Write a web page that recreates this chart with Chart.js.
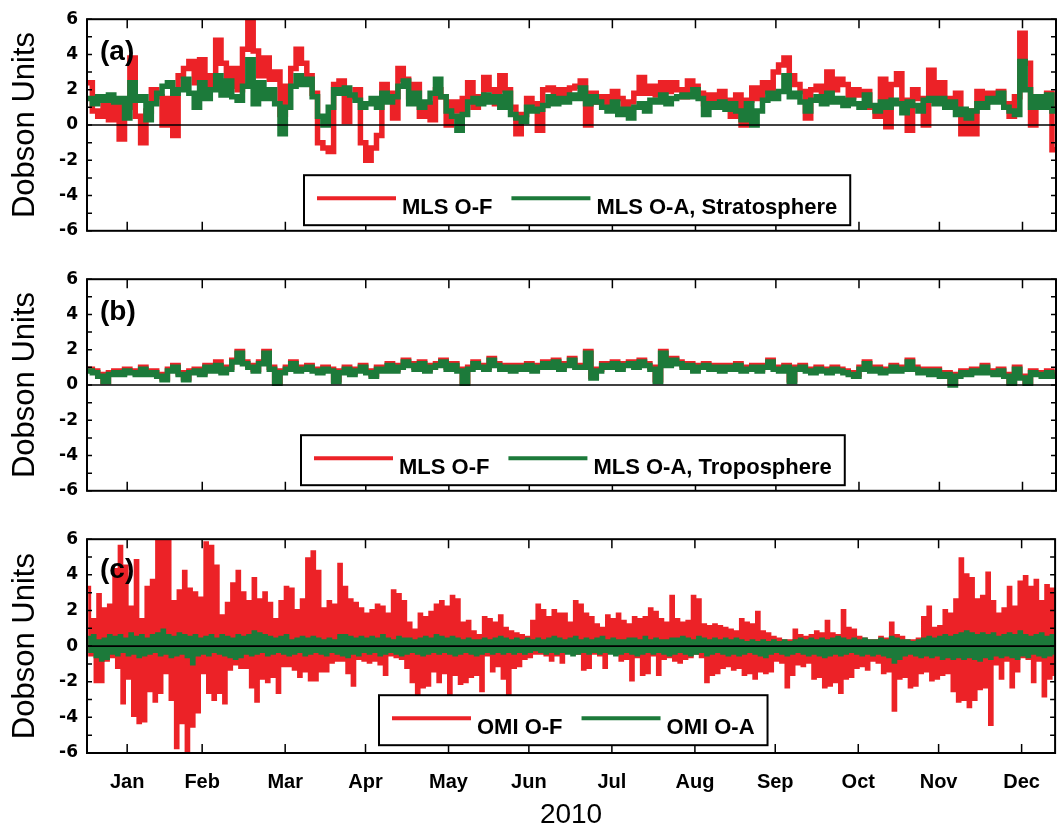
<!DOCTYPE html>
<html>
<head>
<meta charset="utf-8">
<script src="https://cdn.jsdelivr.net/npm/chart.js@4.4.0/dist/chart.umd.min.js"></script>
<style>
  html, body { margin: 0; padding: 0; background: #fff; }
  #wrap { position: relative; width: 1057px; height: 832px; overflow: hidden; }
  canvas { position: absolute; left: 0; }
</style>
</head>
<body>
<div id="wrap">
  <canvas id="panelA" width="1057" height="250" style="top:0px"></canvas>
  <canvas id="panelB" width="1057" height="250" style="top:260px"></canvas>
  <canvas id="panelC" width="1057" height="312" style="top:520px"></canvas>
</div>
<script>
const monthLabels = ["Jan", "Feb", "Mar", "Apr", "May", "Jun", "Jul", "Aug", "Sep", "Oct", "Nov", "Dec"];
// day offsets (from left edge of the plots) of the month ticks
const monthTickDays = [15, 43, 74, 104, 135, 165, 196, 227, 257, 288, 318, 349];
const yTickValues = [-6, -4, -2, 0, 2, 4, 6];
const stepDays = 2;

// (a) stratosphere, one value every 2 days
const mlsStratOF = [
  2.4, 0.8, 0.5, 1.2, 0.3, 1.3, -0.8, 1.0, 3.8, 0.5,
  -1.0, 0.8, 2.0, 1.6, 0.0, 1.5, -0.6, 2.8, 3.2, 3.6,
  2.4, 3.7, 2.2, 2.8, 4.8, 3.5, 2.2, 3.2, 2.0, 4.3,
  6.2, 4.2, 2.8, 3.8, 2.6, 3.0, 0.6, 2.2, 3.2, 4.3,
  3.5, 2.8, 1.8, -1.0, -1.3, -1.5, 2.3, 2.5, 0.2, 1.6,
  2.0, -1.0, -2.0, -1.3, -0.6, 2.3, 1.8, 0.4, 3.2, 2.6,
  1.6, 2.3, 0.5, 1.2, 0.3, 2.0, 1.6, 0.0, 1.3, 0.8,
  1.5, 2.4, 1.0, 1.6, 2.7, 2.0, 1.2, 2.8, 2.0, 1.0,
  -0.5, 0.6, 1.5, 1.2, -0.3, 2.0, 2.1, 1.4, 2.0, 1.6,
  2.1, 2.2, 2.5, 0.0, 1.8, 1.3, 1.6, 1.0, 1.9, 1.5,
  1.1, 1.3, 1.8, 2.7, 1.8, 2.2, 1.7, 2.4, 1.9, 2.4,
  2.0, 1.6, 2.5, 2.2, 1.8, 1.2, 1.7, 1.5, 1.9, 1.4,
  0.5, 1.7, 0.0, 1.4, 2.1, 1.5, 2.4, 1.9, 3.0, 3.4,
  3.8, 2.8, 2.3, 1.9, 0.4, 2.0, 2.2, 1.5, 3.0, 2.0,
  2.6, 2.3, 1.6, 2.0, 1.7, 1.9, 1.0, 0.5, 2.6, -0.1,
  2.3, 2.9, 1.4, -0.3, 2.0, 1.5, 0.0, 3.1, 1.8, 2.4,
  1.5, 1.2, 1.8, -0.5, 0.8, -0.5, 1.9, 1.3, 1.8, 1.5,
  1.9, 1.2, 0.5, 1.6, 5.2, 3.5, 0.0, 1.5, 1.2, 1.8, -1.4
];
const mlsStratOA = [
  1.5, 1.2, 1.6, 1.4, 1.7, 1.3, 1.5, 0.4, 2.4, 1.4,
  1.6, 0.3, 1.2, 1.8, 2.2, 2.4, 1.8, 2.0, 2.6, 1.8,
  1.0, 2.4, 1.5, 2.0, 2.8, 1.7, 2.5, 1.6, 1.4, 2.2,
  3.7, 1.2, 2.4, 1.5, 2.0, 1.2, -0.5, 1.0, 2.2, 2.8,
  2.3, 2.6, 1.6, 0.5, 0.0, 1.0, 2.0, 1.8, 2.1, 1.7,
  1.4, 1.0, 1.2, 1.5, 1.0, 1.8, 1.3, 1.6, 2.2, 2.5,
  1.2, 1.8, 1.0, 1.3, 1.8, 2.6, 1.6, 0.8, 0.5, -0.3,
  0.6, 1.3, 1.5, 1.2, 1.7, 1.3, 1.6, 1.0, 1.8, 0.6,
  0.4, 0.2, 1.0, 0.8, 0.9, 1.1, 1.6, 1.2, 1.5, 1.3,
  1.7, 1.5, 2.1, 1.2, 1.6, 1.3, 1.0, 0.8, 1.3, 0.6,
  0.9, 0.4, 1.0, 1.2, 0.8, 1.4, 1.3, 1.7, 1.2, 1.5,
  1.6, 1.7, 1.6, 2.0, 1.5, 0.6, 1.2, 1.0, 1.3, 0.9,
  1.2, 0.8, 0.3, 1.2, 0.0, 0.8, 1.4, 1.8, 1.5, 1.9,
  2.8, 1.6, 1.8, 1.3, 0.8, 1.4, 1.6, 1.2, 1.8, 1.3,
  1.5, 1.1, 1.4, 1.2, 1.0, 1.7, 1.1, 0.8, 1.3, 1.0,
  1.4, 1.2, 0.7, 1.3, 1.1, 0.8, 1.4, 1.5, 1.2, 1.5,
  1.0, 1.3, 0.6, 0.9, 0.4, 0.8, 1.2, 1.0, 1.5, 1.3,
  1.8, 1.0, 0.8, 0.6, 3.6, 2.0, 1.0, 1.6, 1.0, 1.7, 0.8
];

// (b) troposphere
const mlsTropOF = [
  0.9, 0.8, 0.6, 0.2, 0.7, 0.8, 0.7, 0.9, 0.8, 0.7,
  1.0, 0.7, 0.8, 0.6, 0.4, 0.9, 1.1, 0.7, 0.4, 0.8,
  0.9, 0.7, 1.1, 0.9, 1.3, 0.8, 1.0, 1.4, 1.9, 1.3,
  1.1, 0.9, 1.3, 1.9, 1.0, 0.2, 0.8, 1.0, 1.3, 0.9,
  1.0, 1.1, 0.9, 0.8, 1.0, 0.9, 0.3, 0.8, 1.0, 0.7,
  0.9, 1.1, 0.8, 0.6, 1.0, 0.9, 1.2, 0.9, 1.1, 1.4,
  1.2, 1.0, 1.3, 0.9, 1.1, 1.2, 1.4, 1.0, 1.2, 0.9,
  0.2, 1.0, 1.3, 1.1, 1.0, 1.5, 1.2, 1.0, 1.1, 0.9,
  1.1, 1.0, 1.2, 0.9, 1.1, 1.3, 1.1, 1.4, 1.0, 1.2,
  1.5, 1.1, 1.1, 1.9, 0.5, 0.9, 1.2, 1.1, 1.3, 1.0,
  1.2, 1.3, 1.1, 1.4, 1.2, 1.0, 0.3, 1.9, 1.2, 1.5,
  1.3, 1.1, 1.2, 0.9, 1.1, 1.2, 1.0, 1.1, 0.9, 1.1,
  1.0, 1.2, 0.9, 1.0, 1.1, 0.9, 1.1, 1.4, 1.0, 0.9,
  1.1, 0.3, 1.0, 1.1, 0.9, 0.8, 1.0, 0.9, 0.8, 1.0,
  0.9, 0.8, 0.7, 0.6, 1.0, 1.3, 0.9, 1.0, 0.8, 0.9,
  1.1, 0.9, 1.0, 1.4, 1.0, 0.8, 0.9, 0.7, 0.9, 0.6,
  0.7, 0.1, 0.6, 0.8, 0.7, 0.9, 0.8, 1.1, 0.8, 0.7,
  0.9, 0.6, 0.2, 1.0, 0.5, 0.2, 0.8, 0.7, 0.6, 0.8, 0.6
];
const mlsTropOA = [
  0.8, 0.7, 0.5, 0.2, 0.6, 0.7, 0.6, 0.8, 0.7, 0.6,
  0.9, 0.6, 0.7, 0.5, 0.3, 0.8, 1.0, 0.6, 0.3, 0.7,
  0.8, 0.6, 1.0, 0.8, 1.1, 0.7, 0.9, 1.3, 1.8, 1.2,
  1.0, 0.8, 1.2, 1.8, 0.9, 0.1, 0.7, 0.9, 1.2, 0.8,
  0.9, 1.0, 0.8, 0.7, 0.9, 0.8, 0.2, 0.7, 0.9, 0.6,
  0.8, 1.0, 0.7, 0.5, 0.9, 0.8, 1.1, 0.8, 1.0, 1.3,
  1.1, 0.9, 1.2, 0.8, 1.0, 1.1, 1.3, 0.9, 1.1, 0.8,
  0.1, 0.9, 1.2, 1.0, 0.9, 1.4, 1.1, 0.9, 1.0, 0.8,
  1.0, 0.9, 1.1, 0.8, 1.0, 1.2, 1.0, 1.3, 0.9, 1.1,
  1.4, 1.0, 1.0, 1.8, 0.4, 0.8, 1.1, 1.0, 1.2, 0.9,
  1.1, 1.2, 1.0, 1.3, 1.1, 0.9, 0.2, 1.8, 1.1, 1.4,
  1.2, 1.0, 1.1, 0.8, 1.0, 1.1, 0.9, 1.0, 0.8, 1.0,
  0.9, 1.1, 0.8, 0.9, 1.0, 0.8, 1.0, 1.3, 0.9, 0.8,
  1.0, 0.2, 0.9, 1.0, 0.8, 0.7, 0.9, 0.8, 0.7, 0.9,
  0.8, 0.7, 0.6, 0.5, 0.9, 1.2, 0.8, 0.9, 0.7, 0.8,
  1.0, 0.8, 0.9, 1.3, 0.9, 0.7, 0.8, 0.6, 0.8, 0.5,
  0.6, 0.0, 0.5, 0.7, 0.6, 0.8, 0.7, 1.0, 0.7, 0.6,
  0.8, 0.5, 0.1, 0.9, 0.4, 0.1, 0.7, 0.6, 0.5, 0.7, 0.5
];

// (c) OMI: upper and lower swing of each 2-day stretch
const omiOFHigh = [
  3.3, 1.5, 2.9, 2.1, 2.3, 4.3, 5.6, 4.5, 2.2, 4.8,
  1.5, 3.3, 3.7, 6.0, 6.5, 6.5, 2.5, 3.1, 4.2, 3.2,
  3.0, 2.7, 5.8, 5.6, 4.5, 1.7, 2.4, 3.5, 4.2, 3.0,
  2.5, 3.8, 2.6, 3.0, 2.4, 1.5, 2.5, 3.3, 3.2, 2.0,
  2.6, 4.9, 5.3, 4.2, 2.1, 2.5, 2.3, 4.6, 3.3, 2.6,
  2.4, 2.1, 1.8, 2.0, 2.3, 2.2, 1.8, 3.1, 2.9, 2.5,
  1.3, 0.9, 1.8, 1.6, 1.9, 2.3, 2.5, 2.2, 2.8, 2.6,
  1.3, 1.4, 0.8, 0.6, 1.6, 1.5, 1.3, 1.7, 1.0, 0.8,
  0.7, 0.6, 0.5, 1.4, 2.3, 2.0, 1.6, 2.0, 1.8, 1.8,
  1.3, 2.5, 2.3, 1.8, 1.6, 1.2, 1.0, 1.7, 1.5, 1.8,
  1.4, 1.2, 1.6, 1.5, 1.6, 2.1, 1.9, 1.5, 1.3, 2.8,
  1.5, 1.3, 1.4, 2.8, 2.6, 1.2, 1.1, 1.2, 1.1, 1.0,
  0.9, 0.8, 1.5, 1.3, 1.2, 1.9, 0.8, 0.7, 0.5, 0.4,
  0.3, 0.3, 0.9, 0.6, 0.5, 0.6, 0.8, 0.7, 1.4, 0.7,
  0.6, 2.0, 1.0, 0.9, 0.5, 0.4, 0.3, 0.3, 0.5, 0.4,
  1.3, 0.6, 0.5, 0.3, 0.3, 0.4, 1.6, 2.2, 1.0, 1.1,
  2.0, 1.8, 2.6, 4.9, 4.0, 3.8, 2.6, 2.8, 4.1, 2.5,
  1.8, 2.1, 3.3, 2.2, 3.6, 3.9, 3.3, 3.7, 2.5, 3.4, 3.2
];
const omiOFLow = [
  -0.5, -2.0, -2.0, -0.8, -0.6, -1.2, -3.2, -1.8, -3.9, -4.3,
  -4.2, -2.5, -3.1, -2.6, -1.5, -3.0, -5.7, -4.3, -6.5, -4.5,
  -3.7, -1.5, -2.6, -3.0, -2.6, -3.2, -1.3, -1.0, -1.2, -1.2,
  -2.3, -3.1, -1.8, -2.0, -1.7, -2.6, -1.1, -1.1, -1.3, -1.7,
  -1.4, -1.9, -1.9, -1.4, -1.4, -0.9, -0.8, -0.8, -1.5, -2.2,
  -0.7, -0.8, -0.9, -0.8, -1.0, -1.6, -0.5, -0.6, -0.7, -1.2,
  -2.0, -3.0, -2.3, -2.2, -1.4, -2.0, -1.5, -3.0, -1.6, -2.1,
  -2.0, -1.7, -1.6, -2.5, -0.5, -1.4, -1.1, -1.8, -3.0, -1.2,
  -1.1, -0.7, -0.6, -0.4, -0.4, -0.5, -0.8, -0.5, -0.9, -0.3,
  -0.3, -0.4, -1.3, -1.2, -0.4, -0.5, -1.2, -0.3, -0.4, -0.8,
  -0.7, -1.9, -0.6, -1.6, -1.5, -0.5, -1.6, -0.7, -0.6, -0.8,
  -0.9, -0.7, -0.6, -0.4, -0.6, -2.0, -1.6, -1.5, -1.2, -1.1,
  -1.3, -1.2, -1.6, -1.5, -1.8, -1.4, -1.5, -1.4, -0.8, -0.9,
  -2.3, -1.6, -1.0, -1.1, -0.9, -1.8, -1.7, -2.3, -2.2, -2.0,
  -2.6, -1.8, -1.7, -1.2, -1.1, -1.3, -0.8, -0.9, -1.5, -1.4,
  -3.6, -1.8, -1.7, -2.3, -2.2, -1.5, -1.4, -1.9, -1.8, -1.6,
  -1.5, -2.5, -3.1, -3.0, -3.4, -3.0, -2.4, -2.3, -4.4, -1.0,
  -1.8, -0.8, -2.3, -1.4, -0.6, -0.7, -2.0, -0.8, -2.8, -1.8, -1.6
];
const omiOAHigh = [
  0.5, 0.6, 0.3, 0.4, 0.6, 0.5, 0.6, 0.4, 0.7, 0.5,
  0.6, 0.4, 0.6, 0.7, 0.9, 0.6, 0.5, 0.7, 0.6, 0.5,
  0.6, 0.4, 0.5, 0.6, 0.4, 0.6, 0.5, 0.4, 0.6, 0.5,
  0.6, 0.8, 0.7, 0.6, 0.5, 0.4, 0.5, 0.6, 0.3, 0.4,
  0.5, 0.4, 0.5, 0.4, 0.3, 0.4, 0.3, 0.6, 0.6, 0.5,
  0.4, 0.5, 0.4, 0.5, 0.4, 0.6, 0.4, 0.3, 0.5, 0.4,
  0.4, 0.3, 0.4, 0.5, 0.4, 0.6, 0.5, 0.4, 0.5, 0.4,
  0.3, 0.4, 0.3, 0.3, 0.4, 0.3, 0.4, 0.5, 0.4, 0.3,
  0.4, 0.3, 0.4, 0.3, 0.4, 0.3, 0.4, 0.5, 0.4, 0.3,
  0.4, 0.5, 0.3, 0.4, 0.3, 0.4, 0.5, 0.3, 0.4, 0.3,
  0.3, 0.4, 0.4, 0.3, 0.5, 0.3, 0.4, 0.3, 0.3, 0.4,
  0.4, 0.5, 0.4, 0.3, 0.5, 0.4, 0.3, 0.4, 0.3, 0.4,
  0.3, 0.4, 0.3, 0.2, 0.3, 0.2, 0.3, 0.2, 0.3, 0.2,
  0.3, 0.2, 0.3, 0.4, 0.3, 0.4, 0.3, 0.4, 0.3, 0.4,
  0.5, 0.4, 0.3, 0.4, 0.3, 0.4, 0.3, 0.3, 0.4, 0.3,
  0.5, 0.4, 0.3, 0.3, 0.2, 0.3, 0.4, 0.5, 0.4, 0.5,
  0.6, 0.5, 0.6, 0.7, 0.8, 0.7, 0.6, 0.7, 0.6, 0.7,
  0.5, 0.6, 0.7, 0.6, 0.8, 0.6, 0.5, 0.6, 0.7, 0.5, 0.6
];
const omiOALow = [
  -0.3, -0.6, -0.8, -0.7, -0.4, -0.5, -0.3, -0.5, -0.4, -0.6,
  -0.5, -0.4, -0.3, -0.5, -0.4, -0.6, -0.5, -0.4, -0.6, -1.0,
  -0.5, -0.4, -0.5, -0.3, -0.4, -0.5, -0.6, -0.7, -0.6, -0.4,
  -0.5, -0.4, -0.3, -0.5, -0.4, -0.3, -0.4, -0.5, -0.4, -0.3,
  -0.5, -0.4, -0.3, -0.4, -0.5, -0.3, -0.4, -0.5, -0.6, -0.4,
  -0.5, -0.3, -0.4, -0.3, -0.5, -0.4, -0.3, -0.4, -0.5, -0.4,
  -0.3, -0.4, -0.5, -0.4, -0.3, -0.4, -0.3, -0.4, -0.5, -0.4,
  -0.3, -0.4, -0.5, -0.4, -0.3, -0.4, -0.3, -0.4, -0.3, -0.4,
  -0.3, -0.4, -0.3, -0.2, -0.3, -0.4, -0.3, -0.4, -0.3, -0.4,
  -0.5, -0.4, -0.3, -0.4, -0.3, -0.4, -0.3, -0.4, -0.5, -0.4,
  -0.3, -0.4, -0.5, -0.4, -0.3, -0.4, -0.3, -0.4, -0.5, -0.4,
  -0.3, -0.4, -0.5, -0.4, -0.3, -0.5, -0.4, -0.3, -0.4, -0.5,
  -0.4, -0.5, -0.4, -0.3, -0.4, -0.5, -0.6, -0.4, -0.3, -0.4,
  -0.5, -0.4, -0.3, -0.4, -0.5, -0.4, -0.5, -0.6, -0.5, -0.4,
  -0.5, -0.4, -0.3, -0.4, -0.5, -0.4, -0.5, -0.4, -0.5, -0.6,
  -0.9, -0.7, -0.5, -0.4, -0.5, -0.6, -0.5, -0.6, -0.5, -0.7,
  -0.6, -0.7, -0.6, -0.7, -0.6, -0.7, -0.8, -0.6, -0.7, -0.5,
  -0.6, -0.5, -0.6, -0.7, -0.5, -0.6, -0.4, -0.5, -0.6, -0.5, -0.4
];

const RED = "#ec2227";
const GREEN = "#1c7a3a";
const X_MAX = 361.5;

Chart.defaults.font.family = "'Liberation Sans', Arial, sans-serif";
Chart.defaults.color = "#000";

// each value holds for stepDays
function stepSeries(values) {
    const pts = values.map((v, i) => ({ x: i * stepDays, y: v }));
    pts.push({ x: values.length * stepDays, y: values[values.length - 1] });
    return pts;
}

// high then low inside each stretch, drawn as one jagged line
function bandSeries(high, low) {
    const pts = [];
    high.forEach((v, i) => {
        pts.push({ x: i * stepDays, y: v });
        pts.push({ x: i * stepDays + stepDays / 2, y: low[i] });
    });
    pts.push({ x: high.length * stepDays, y: low[low.length - 1] });
    return pts;
}

function lineSet(label, data, color, width, order) {
    return {
        label: label,
        data: data,
        borderColor: color,
        backgroundColor: color,
        borderWidth: width,
        stepped: true,
        pointRadius: 0,
        fill: false,
        order: order,
        clip: 0,
        borderJoinStyle: "miter",
        borderCapStyle: "butt"
    };
}

// frame, inward ticks, zero line, panel tag and boxed legend
const panelDecor = {
    id: "panelDecor",
    afterDatasetsDraw(chart, args, opts) {
        const ctx = chart.ctx;
        const a = chart.chartArea;
        const x = chart.scales.x;
        const y = chart.scales.y;
        ctx.save();
        ctx.strokeStyle = "#000";

        const y0 = y.getPixelForValue(0);
        ctx.lineWidth = 1.6;
        ctx.beginPath();
        ctx.moveTo(a.left, y0);
        ctx.lineTo(a.right, y0);
        ctx.stroke();

        ctx.lineWidth = 2;
        ctx.strokeRect(a.left, a.top, a.right - a.left, a.bottom - a.top);

        ctx.lineWidth = 1.5;
        ctx.beginPath();
        monthTickDays.forEach(d => {
            const px = x.getPixelForValue(d);
            ctx.moveTo(px, a.top);
            ctx.lineTo(px, a.top + 9);
            ctx.moveTo(px, a.bottom);
            ctx.lineTo(px, a.bottom - 9);
        });
        for (let v = y.min; v <= y.max; v++) {
            const py = y.getPixelForValue(v);
            ctx.moveTo(a.left, py);
            ctx.lineTo(a.left + 5, py);
            ctx.moveTo(a.right, py);
            ctx.lineTo(a.right - 5, py);
        }
        ctx.stroke();

        ctx.fillStyle = "#000";
        ctx.font = "bold 28px 'Liberation Sans', Arial, sans-serif";
        ctx.textBaseline = "middle";
        ctx.textAlign = "left";
        ctx.fillText(opts.tag, a.left + 13, a.top + opts.tagDy);

        // legend box
        ctx.font = "bold 22px 'Liberation Sans', Arial, sans-serif";
        ctx.textBaseline = "alphabetic";
        const items = chart.data.datasets;
        const sampleLen = 79;
        let w = 13;
        items.forEach((ds, i) => {
            w += sampleLen + 6 + ctx.measureText(ds.label).width;
            w += i < items.length - 1 ? 19 : 13;
        });
        const bx = opts.legendX;
        const by = a.top + 156;
        const bh = 50;
        ctx.fillStyle = "#fff";
        ctx.fillRect(bx, by, w, bh);
        ctx.lineWidth = 2;
        ctx.strokeRect(bx, by, w, bh);
        let cx = bx + 13;
        items.forEach(ds => {
            ctx.strokeStyle = ds.borderColor;
            ctx.lineWidth = 4;
            ctx.beginPath();
            ctx.moveTo(cx, by + 23);
            ctx.lineTo(cx + sampleLen, by + 23);
            ctx.stroke();
            cx += sampleLen + 6;
            ctx.fillStyle = "#000";
            ctx.fillText(ds.label, cx, by + 39);
            cx += ctx.measureText(ds.label).width + 19;
        });
        ctx.restore();
    }
};

function makePanel(id, datasets, decor, withDates) {
    const xScale = {
        type: "linear",
        min: 0,
        max: X_MAX,
        display: withDates,
        grid: { display: false, drawTicks: false },
        border: { display: false },
        afterBuildTicks: s => { s.ticks = monthTickDays.map(v => ({ value: v })); },
        ticks: {
            autoSkip: false,
            maxRotation: 0,
            padding: 17,
            font: { size: 20, weight: "bold" },
            callback: (v, i) => monthLabels[i]
        },
        title: {
            display: true,
            text: "2010",
            font: { size: 28 },
            padding: 0
        }
    };
    if (withDates) {
        xScale.afterFit = s => { s.height = 79; };
    }
    return new Chart(document.getElementById(id), {
        type: "line",
        data: { datasets: datasets },
        options: {
            responsive: false,
            animation: false,
            devicePixelRatio: 1,
            events: [],
            layout: { padding: { top: 17, right: 1, left: 0, bottom: withDates ? 0 : 17 } },
            scales: {
                x: xScale,
                y: {
                    min: -6,
                    max: 6,
                    afterBuildTicks: s => { s.ticks = yTickValues.map(v => ({ value: v })); },
                    afterFit: s => { s.width = 87; },
                    grid: { display: false, drawTicks: false },
                    border: { display: false },
                    ticks: {
                        padding: 9,
                        font: { family: "'DejaVu Sans', sans-serif", size: 17, weight: "bold" }
                    },
                    title: {
                        display: true,
                        text: "Dobson Units",
                        font: { size: 31 },
                        padding: { top: 7, bottom: 0 }
                    }
                }
            },
            plugins: {
                legend: { display: false },
                tooltip: { enabled: false },
                panelDecor: decor
            }
        },
        plugins: [panelDecor]
    });
}

makePanel("panelA", [
    lineSet("MLS O-F", stepSeries(mlsStratOF), RED, 5.5, 1),
    lineSet("MLS O-A, Stratosphere", stepSeries(mlsStratOA), GREEN, 5.5, 0)
], { tag: "(a)", tagDy: 33, legendX: 304 }, false);

makePanel("panelB", [
    lineSet("MLS O-F", stepSeries(mlsTropOF), RED, 5.5, 1),
    lineSet("MLS O-A, Troposphere", stepSeries(mlsTropOA), GREEN, 5.5, 0)
], { tag: "(b)", tagDy: 33, legendX: 301 }, false);

makePanel("panelC", [
    lineSet("OMI O-F", bandSeries(omiOFHigh, omiOFLow), RED, 3, 1),
    lineSet("OMI O-A", bandSeries(omiOAHigh, omiOALow), GREEN, 3, 0)
], { tag: "(c)", tagDy: 31, legendX: 379 }, true);
</script>
</body>
</html>
